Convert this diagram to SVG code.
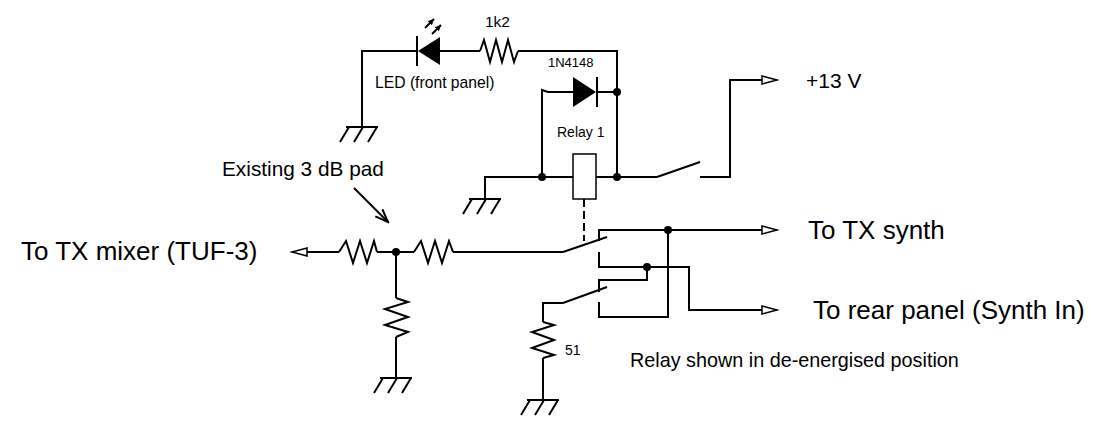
<svg xmlns="http://www.w3.org/2000/svg" width="1102" height="422" viewBox="0 0 1102 422">
<style>
.w{fill:none;stroke:#000;stroke-width:2;stroke-linejoin:miter}
.t{font-family:"Liberation Sans",Arial,sans-serif;fill:#000}
.dot{fill:#000}
.blk{fill:#000;stroke:none}
</style>
<defs>
<marker id="oa" markerUnits="userSpaceOnUse" markerWidth="20" markerHeight="12" refX="16" refY="5" orient="auto" viewBox="0 0 20 12">
<path d="M1,1 L16,5 L1,9 Z" fill="#fff" stroke="#000" stroke-width="1.5"/>
</marker>
<marker id="va" markerUnits="userSpaceOnUse" markerWidth="16" markerHeight="14" refX="14" refY="6" orient="auto" viewBox="0 0 16 14">
<path d="M1,1 L14,6 L1,11" fill="none" stroke="#000" stroke-width="2"/>
</marker>
<marker id="fa" markerUnits="userSpaceOnUse" markerWidth="8" markerHeight="8" refX="6" refY="3" orient="auto" viewBox="0 0 8 8">
<path d="M0,0 L6,3 L0,6 Z" fill="#000"/>
</marker>
<g id="gnd"><path class="w" d="M-16,0 H16 M-13,0 l-9,15 M1,0 l-9,15 M15,0 l-9,15"/></g>
</defs>
<rect width="1102" height="422" fill="#fff"/>

<g id="connectors">
<path class="w" d="M362,127 V51 H417"/>
<path class="w" d="M440,51 H480"/>
<path class="w" d="M518,51 H617 V177"/>
<path class="w" d="M542,177 V90 L548,92 H573"/>
<path class="w" d="M597,92 H617"/>
<path class="w" d="M485,199 V177 H573"/>
<path class="w" d="M596,177 H657"/>
<path class="w" d="M700,177 H730 V80 H777" marker-end="url(#oa)"/>
<path class="w" d="M339,252 H292" marker-end="url(#oa)"/>
<path class="w" d="M377,252 H414"/>
<path class="w" d="M453,252 H563"/>
<path class="w" d="M396,252 V298"/>
<path class="w" d="M396,337 V378"/>
<path class="w" d="M599,241 V230 H777" marker-end="url(#oa)"/>
<path class="w" d="M599,252 V267 H689 V310 H777" marker-end="url(#oa)"/>
<path class="w" d="M647,267 V280 H599 V292"/>
<path class="w" d="M599,302 V317 H668 V230"/>
<path class="w" d="M543,322 V303 H563"/>
<path class="w" d="M543,358 V400"/>
<path class="w" d="M354,188 L388,222" marker-end="url(#va)"/>
<circle class="dot" cx="617" cy="92" r="4"/>
<circle class="dot" cx="542" cy="177" r="4"/>
<circle class="dot" cx="617" cy="177" r="4"/>
<circle class="dot" cx="396" cy="252" r="4"/>
<circle class="dot" cx="668" cy="230" r="4"/>
<circle class="dot" cx="647" cy="267" r="4"/>
</g>

<g id="led">
<path class="w" d="M417,36 V66"/>
<polygon class="blk" points="418,51 440,37 440,65"/>
<path class="w" stroke-width="1.5" d="M425,28 L434,19" marker-end="url(#fa)"/>
<path class="w" stroke-width="1.5" d="M432,34 L441,25" marker-end="url(#fa)"/>
<text class="t" x="375" y="88" font-size="15.7">LED (front panel)</text>
</g>

<g id="r1k2">
<path class="w" d="M480,51 L484,40 L490,62 L496,40 L502,62 L508,40 L514,62 L518,51"/>
<text class="t" x="485" y="27" font-size="15.5">1k2</text>
</g>

<g id="d1n4148">
<polygon class="blk" points="573,77 573,107 596,92"/>
<path class="w" d="M597,77 V107"/>
<text class="t" x="548" y="67" font-size="13">1N4148</text>
</g>

<g id="relay1">
<rect x="573" y="154" width="23" height="45" fill="#fff" stroke="#000" stroke-width="1.5"/>
<path class="w" stroke-dasharray="8 4" d="M584,199 V241"/>
<text class="t" x="557" y="137" font-size="14">Relay 1</text>
</g>

<g id="switch-power">
<path class="w" d="M657,177 L700,162"/>
</g>

<g id="switch-rf1">
<path class="w" d="M563,252 L607,237"/>
</g>

<g id="switch-rf2">
<path class="w" d="M563,303 L607,287"/>
</g>

<g id="pad">
<path class="w" d="M339,252 L346,241 L353,263 L360,241 L367,263 L374,241 L377,252"/>
<path class="w" d="M414,252 L421,241 L428,263 L435,241 L442,263 L449,241 L453,252"/>
<path class="w" d="M396,298 L408,302 L385,309 L408,317 L385,325 L408,332 L396,337"/>
<text class="t" x="222" y="176" font-size="20.8">Existing 3 dB pad</text>
</g>

<g id="r51">
<path class="w" d="M543,322 L554,325 L532,332 L554,340 L532,348 L554,355 L543,358"/>
<text class="t" x="565" y="355" font-size="14">51</text>
</g>

<g id="grounds">
<use href="#gnd" x="362" y="127"/>
<use href="#gnd" x="485" y="199"/>
<use href="#gnd" x="396" y="378"/>
<use href="#gnd" x="543" y="400"/>
</g>

<g id="labels">
<text class="t" x="806" y="88" font-size="21">+13 V</text>
<text class="t" x="21" y="260" font-size="26">To TX mixer (TUF-3)</text>
<text class="t" x="808" y="239" font-size="26">To TX synth</text>
<text class="t" x="813" y="319" font-size="26">To rear panel (Synth In)</text>
<text class="t" x="630" y="367" font-size="19.8">Relay shown in de-energised position</text>
</g>
</svg>
